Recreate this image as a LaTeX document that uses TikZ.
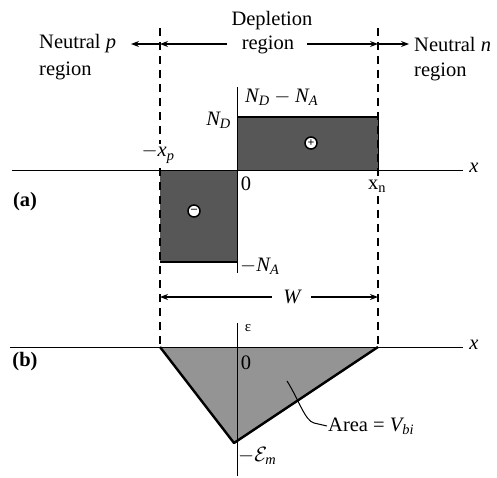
\documentclass[tikz,border=0pt]{standalone}
\usepackage{fontspec}
\setmainfont{Liberation Serif}
\usetikzlibrary{arrows.meta}
\begin{document}
\begin{tikzpicture}[x=1pt,y=-1pt,
  lbl/.style={font=\fontsize{20.5}{22}\selectfont, inner sep=1pt},
  smalllbl/.style={font=\fontsize{15}{17}\selectfont, inner sep=1pt},
  axisline/.style={line width=0.9pt},
  thickline/.style={line width=2.4pt},
  dashline/.style={line width=1.1pt, dash pattern=on 8pt off 6pt},
  arr/.style={line width=1.1pt, -{Stealth[length=8pt,width=6pt]}},
  darkfill/.style={fill=black!66},
  lightfill/.style={fill=black!42},
  charge/.style={circle, draw=black, line width=1.5pt, fill=white, minimum size=12pt, inner sep=0pt, font=\fontsize{12}{12}\selectfont\bfseries}
]
\useasboundingbox (0,0) rectangle (497,477);

% ---------- coordinates ----------
\coordinate (pT) at (160,28);  \coordinate (pB) at (160,347);
\coordinate (nT) at (378,28);  \coordinate (nB) at (378,347);
\coordinate (axAL) at (12,170); \coordinate (axAR) at (463,170);
\coordinate (axBL) at (10,347); \coordinate (axBR) at (463,347);
\coordinate (vAT) at (237,87);  \coordinate (vAB) at (237,273);
\coordinate (vBT) at (237,323); \coordinate (vBB) at (237,476);
\coordinate (apex) at (234,443);

% ---------- panel (a) fills ----------
\path[darkfill] (237,117) rectangle (378,170);
\path[darkfill] (160,170) rectangle (237,262);
\draw[thickline] (237,117) -- (378,117);
\draw[line width=0.9pt] (378,117) -- (378,170);
\draw[thickline] (160,262) -- (237,262);

% ---------- panel (b) fill ----------
\path[lightfill] (pB) -- (nB) -- (apex) -- cycle;
\draw[thickline, line join=round] (pB) -- (apex) -- (nB);

% ---------- axes ----------
\draw[axisline] (axAL) -- (axAR);
\draw[axisline] (axBL) -- (axBR);
\draw[axisline] (vAT) -- (vAB);
\draw[axisline] (vBT) -- (vBB);

% ---------- dashed boundaries ----------
\draw[dashline] (pT) -- (pB);
\draw[dashline] (nT) -- (nB);

% ---------- charges ----------
\node[charge] (plus) at (311,143) {+};
\node[charge] (minus) at (194,211) {\raisebox{0.5pt}{--}};

% ---------- top labels ----------
\node[lbl] (depl) at (272,21) {Depletion};
\node[lbl] (dreg) at (268,45) {region};
\node[lbl, anchor=west] (np) at (38,44) {Neutral $\mathit{p}$};
\node[lbl, anchor=west] (npr) at (38,71) {region};
\node[lbl, anchor=west] (nn) at (413,44) {Neutral $\mathit{n}$};
\node[lbl, anchor=west] (nnr) at (413,72) {region};

\coordinate (aL1) at (160,44);
\coordinate (aR1) at (378,44);
\coordinate (aL0) at (131,44);
\coordinate (aR0) at (409,44);
\coordinate (aL2) at (227,44);
\coordinate (aR2) at (307,44);
\draw[arr] (aL1) -- (aL0);
\draw[arr] (aL2) -- (aL1);
\draw[arr] (aR2) -- (aR1);
\draw[arr] (aR1) -- (aR0);

% ---------- panel (a) labels ----------
\node[lbl, anchor=west] (ndna) at (244,97) {$\mathit{N}_{\mathit{D}} - \mathit{N}_{\mathit{A}}$};
\node[lbl, anchor=east] (nd) at (232,120) {$\mathit{N}_{\mathit{D}}$};
\node[lbl, fill=white] (xp) at (158,154) {$-\mathit{x}_{\mathit{p}}$};
\node[lbl] (zeroA) at (246,184) {0};
\node[lbl, fill=white] (xn) at (377,186) {$\mathrm{x}_{\mathrm{n}}$};
\node[lbl] (xA) at (474,168) {$\mathit{x}$};
\node[lbl] (labA) at (25,202) {\textbf{(a)}};
\node[lbl, anchor=west] (na) at (239,266) {$-\mathit{N}_{\mathit{A}}$};

% ---------- W ----------
\node[lbl] (W) at (292,297) {$\mathit{W}$};
\coordinate (wL) at (160,297);
\coordinate (wR) at (378,297);
\draw[arr] (272,297) -- (wL);
\draw[arr] (311,297) -- (wR);

% ---------- panel (b) labels ----------
\node[smalllbl] (eps) at (248,328) {ε};
\node[lbl] (xB) at (474,345) {$\mathit{x}$};
\node[lbl] (labB) at (25,362) {\textbf{(b)}};
\node[lbl] (zeroB) at (246,363) {0};
\node[lbl, anchor=west] (em) at (237,456) {$-\mathcal{E}_{\mathit{m}}$};
\node[lbl, anchor=west] (area) at (327,426) {Area = $\mathit{V}_{\mathit{bi}}$};
\coordinate (areaPt) at (287,381);
\draw[line width=1pt] (areaPt) .. controls (298,398) and (305,421) .. (314,423) -- (area.west);
\end{tikzpicture}
\end{document}
